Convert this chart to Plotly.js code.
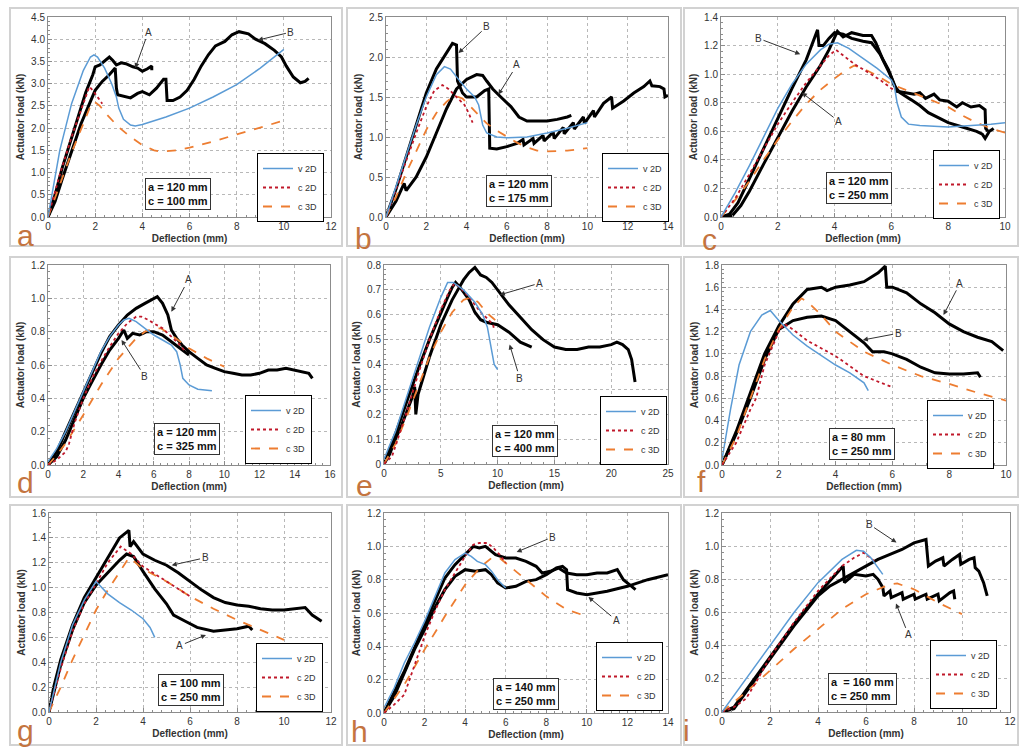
<!DOCTYPE html>
<html>
<head>
<meta charset="utf-8">
<script src="https://cdn.plot.ly/plotly-3.0.1.min.js"></script>
<style>
  html, body { margin: 0; padding: 0; background: #fff; }
  #chart { width: 1024px; height: 756px; }
</style>
</head>
<body>
<div id="chart"></div>
<script>
/* Nine load-deflection panels (a..i): two test curves (A, B) against
   the v 2D / c 2D / c 3D model predictions. */

// ---- panel a: a = 120 mm, c = 100 mm
const a_v2d = [[0,0],[0.25,0.8],[0.5,1.5],[1,2.55],[1.5,3.3],[1.8,3.6],[1.95,3.65],[2.1,3.6],[2.4,3.35],[2.7,3.0],[2.9,2.7],[3.0,2.45],[3.2,2.2],[3.5,2.07],[3.7,2.05],[4.0,2.08],[5,2.25],[6,2.45],[7,2.7],[8,2.98],[9,3.35],[10,3.77]];
const a_c2d = [[0,0],[0.5,0.95],[1,1.8],[1.5,2.55],[1.75,2.93],[1.9,2.85],[2.1,2.7],[2.3,2.55]];
const a_c3d = [[0,0],[0.5,0.75],[1,1.45],[1.5,2.1],[1.8,2.5],[1.95,2.6],[2.2,2.5],[2.5,2.3],[3,2.02],[3.5,1.8],[4,1.62],[4.5,1.5],[4.8,1.47],[5.5,1.5],[6,1.56],[7,1.7],[8,1.86],[9,2.02],[10,2.17]];
const a_expA = [[0,0],[0.3,0.5],[0.6,1.1],[1,1.8],[1.3,2.3],[1.6,2.8],[1.9,3.2],[2.0,3.38],[2.2,3.42],[2.4,3.5],[2.6,3.6],[2.75,3.52],[2.9,3.42],[3.1,3.47],[3.3,3.45],[3.6,3.38],[3.8,3.35],[4.0,3.28],[4.2,3.33],[4.4,3.4],[4.4,3.3]];
const a_expB = [[0,0],[0.3,0.35],[0.6,0.85],[1,1.5],[1.4,2.1],[1.8,2.6],[2.0,2.85],[2.3,3.05],[2.6,3.2],[2.85,3.35],[2.9,2.9],[2.95,2.75],[3.2,2.72],[3.5,2.68],[3.8,2.78],[4.0,2.82],[4.3,2.75],[4.6,2.9],[4.9,3.1],[5.0,3.1],[5.05,2.62],[5.3,2.62],[5.6,2.7],[5.9,2.85],[6.2,3.1],[6.5,3.4],[6.8,3.65],[7.1,3.85],[7.5,3.95],[7.8,4.1],[8.1,4.17],[8.5,4.12],[8.8,4.0],[9.2,3.9],[9.6,3.75],[9.9,3.6],[10.1,3.4],[10.4,3.15],[10.7,3.02],[10.9,3.05],[11.05,3.12]];

// ---- panel b: a = 120 mm, c = 175 mm
const b_v2d = [[0,0],[0.5,0.38],[1,0.78],[1.5,1.15],[2,1.5],[2.5,1.78],[2.9,1.88],[3.2,1.85],[3.6,1.72],[4.0,1.6],[4.4,1.5],[4.6,1.4],[4.8,1.15],[5.0,1.05],[5.5,1.0],[6,0.99],[7,1.0],[8,1.05],[9,1.11],[10,1.18]];
const b_c2d = [[0,0],[0.5,0.35],[1,0.72],[1.5,1.05],[2,1.38],[2.4,1.58],[2.8,1.65],[3.1,1.6],[3.5,1.5],[3.9,1.4],[4.1,1.3],[4.3,1.18]];
const b_c3d = [[0,0],[0.5,0.25],[1,0.55],[1.5,0.83],[2,1.09],[2.5,1.3],[3,1.44],[3.4,1.52],[3.8,1.48],[4.2,1.38],[4.6,1.27],[5,1.17],[5.5,1.08],[6,1.0],[6.5,0.93],[7,0.87],[7.5,0.83],[8,0.82],[9,0.83],[10,0.86]];
const b_expA = [[0,0],[0.5,0.2],[0.9,0.42],[1.0,0.33],[1.5,0.5],[2,0.75],[2.5,1.05],[3,1.35],[3.5,1.6],[4,1.72],[4.5,1.78],[4.8,1.77],[5.0,1.7],[5.3,1.6],[5.7,1.5],[6.2,1.38],[6.6,1.25],[7,1.2],[8,1.2],[8.5,1.22],[9.0,1.25],[9.2,1.27]];
const b_expB = [[0,0],[0.5,0.35],[1,0.75],[1.5,1.15],[2,1.55],[2.5,1.85],[3,2.05],[3.3,2.17],[3.5,2.15],[3.55,1.7],[3.8,1.55],[4.0,1.5],[4.5,1.5],[4.9,1.58],[5.1,1.6],[5.15,0.86],[5.5,0.85],[6,0.88],[6.5,0.92],[6.8,0.97],[6.85,0.9],[7.3,0.98],[7.35,0.92],[7.8,1.02],[7.85,0.95],[8.3,1.06],[8.35,0.98],[8.8,1.12],[8.85,1.04],[9.3,1.18],[9.35,1.1],[9.8,1.25],[9.85,1.17],[10.3,1.33],[10.35,1.25],[10.8,1.42],[11.2,1.5],[11.25,1.36],[11.8,1.45],[12.3,1.55],[12.8,1.63],[13.1,1.7],[13.2,1.64],[13.6,1.63],[13.8,1.6],[13.85,1.5],[14,1.52]];

// ---- panel c: a = 120 mm, c = 250 mm
const c_v2d = [[0,0],[0.5,0.17],[1,0.36],[1.5,0.56],[2,0.76],[2.5,0.93],[3,1.07],[3.5,1.17],[3.8,1.21],[4.1,1.22],[4.5,1.18],[5,1.11],[5.5,1.04],[6,0.96],[6.1,0.92],[6.2,0.8],[6.35,0.7],[6.6,0.65],[7,0.64],[8,0.63],[9,0.64],[9.5,0.65],[10,0.66]];
const c_c2d = [[0,0],[0.5,0.13],[1,0.3],[1.5,0.48],[2,0.65],[2.5,0.8],[3,0.94],[3.5,1.06],[3.8,1.13],[4.05,1.17],[4.3,1.13],[4.7,1.07],[5.2,1.01],[5.6,0.96],[6,0.9],[6.1,0.89]];
const c_c3d = [[0,0],[0.5,0.12],[1,0.25],[1.5,0.4],[2,0.54],[2.5,0.67],[3,0.79],[3.5,0.89],[4,0.97],[4.4,1.03],[4.7,1.06],[5,1.04],[5.5,0.99],[6,0.93],[6.5,0.89],[7,0.85],[7.5,0.81],[8,0.77],[8.5,0.71],[9,0.66],[9.5,0.62],[10,0.59]];
const c_expA = [[0,0],[0.4,0.01],[0.7,0.08],[1,0.18],[1.5,0.37],[2,0.56],[2.5,0.74],[3,0.91],[3.5,1.06],[3.8,1.17],[4.0,1.26],[4.1,1.3],[4.3,1.26],[4.6,1.29],[5,1.27],[5.3,1.27],[5.45,1.22],[5.7,1.1],[6,0.98],[6.2,0.88],[6.5,0.87],[6.8,0.86],[7,0.87],[7.2,0.83],[7.5,0.86],[7.7,0.82],[8,0.81],[8.3,0.77],[8.5,0.8],[8.8,0.77],[9.1,0.78],[9.3,0.75],[9.32,0.62],[9.4,0.6]];
const c_expB = [[0,0],[0.3,0.02],[0.6,0.1],[1,0.27],[1.5,0.48],[2,0.69],[2.5,0.9],[3,1.1],[3.2,1.2],[3.4,1.31],[3.45,1.2],[3.6,1.2],[3.8,1.25],[4.0,1.29],[4.3,1.28],[4.6,1.25],[5,1.23],[5.3,1.22],[5.6,1.14],[5.9,1.03],[6.1,0.92],[6.3,0.87],[6.7,0.82],[7,0.78],[7.3,0.73],[7.7,0.69],[8,0.66],[8.5,0.63],[9,0.6],[9.2,0.58],[9.3,0.55],[9.45,0.6],[9.6,0.62]];

// ---- panel d: a = 120 mm, c = 325 mm
const d_v2d = [[0,0.02],[0.5,0.1],[1,0.2],[1.5,0.32],[2,0.45],[2.5,0.57],[3,0.68],[3.5,0.77],[4,0.84],[4.3,0.87],[4.6,0.88],[5,0.86],[5.5,0.82],[6,0.78],[6.5,0.75],[7,0.72],[7.3,0.68],[7.5,0.6],[7.65,0.52],[8,0.48],[8.5,0.455],[9.3,0.445]];
const d_c2d = [[0,0],[0.5,0.03],[1,0.08],[1.2,0.13],[1.5,0.25],[2,0.4],[2.5,0.52],[3,0.62],[3.5,0.71],[4,0.79],[4.5,0.85],[5,0.89],[5.3,0.89],[5.7,0.87],[6,0.85],[6.5,0.82],[7,0.77],[7.4,0.73],[7.8,0.68]];
const d_c3d = [[0,0],[0.5,0.06],[1,0.13],[2,0.3],[3,0.48],[4,0.64],[5,0.76],[5.5,0.8],[6,0.82],[6.4,0.82],[7,0.78],[7.5,0.74],[8,0.7],[9,0.64],[10,0.59]];
const d_expA = [[0,0],[0.5,0.08],[1,0.2],[1.5,0.32],[2,0.44],[2.5,0.56],[3,0.67],[3.5,0.77],[4,0.84],[4.5,0.9],[5,0.94],[5.5,0.97],[6,1.0],[6.2,1.01],[6.5,0.97],[6.8,0.9],[7,0.81],[7.3,0.76],[7.6,0.72],[8,0.68],[8.5,0.64],[9,0.6],[9.5,0.58],[10,0.56],[10.5,0.55],[11,0.54],[11.5,0.54],[12,0.55],[12.5,0.57],[13,0.57],[13.5,0.58],[14,0.57],[14.5,0.56],[14.8,0.55],[15,0.52]];
const d_expB = [[0,0],[0.5,0.05],[1,0.15],[1.5,0.28],[2,0.4],[2.5,0.5],[3,0.6],[3.5,0.69],[4,0.76],[4.3,0.81],[4.5,0.76],[4.8,0.79],[5.2,0.78],[5.6,0.8],[6,0.8],[6.5,0.78],[7,0.74],[7.5,0.7],[8,0.66]];

// ---- panel e: a = 120 mm, c = 400 mm
const e_v2d = [[0,0.02],[1,0.13],[2,0.27],[3,0.41],[4,0.55],[5,0.67],[5.6,0.73],[6.1,0.73],[7,0.7],[8,0.65],[8.7,0.6],[9.1,0.55],[9.3,0.5],[9.5,0.44],[9.7,0.4],[10,0.38]];
const e_c2d = [[0,0],[0.7,0.03],[1,0.07],[2,0.21],[3,0.36],[4,0.5],[5,0.62],[5.8,0.7],[6.2,0.725],[6.7,0.71],[7.5,0.67],[8.5,0.61],[9.2,0.58],[9.6,0.56],[9.7,0.54]];
const e_c3d = [[0,0],[1,0.08],[2,0.19],[3,0.31],[4,0.43],[5,0.53],[6,0.61],[7,0.66],[7.7,0.67],[8.3,0.65],[9,0.61],[9.5,0.59],[10,0.57]];
const e_expA = [[0,0],[0.5,0.04],[1,0.1],[1.5,0.15],[2,0.21],[2.5,0.27],[2.7,0.31],[2.8,0.2],[3,0.28],[3.5,0.36],[4,0.43],[5,0.56],[6,0.66],[6.5,0.7],[7,0.74],[7.5,0.77],[8,0.79],[8.5,0.76],[9,0.75],[9.5,0.73],[10,0.7],[11,0.64],[12,0.59],[13,0.54],[14,0.5],[15,0.47],[16,0.46],[17,0.46],[18,0.47],[19,0.47],[20,0.48],[20.5,0.49],[21,0.48],[21.5,0.46],[21.8,0.42],[22,0.37],[22.1,0.33]];
const e_expB = [[0,0],[1,0.12],[2,0.25],[3,0.38],[4,0.5],[5,0.61],[5.5,0.66],[6,0.71],[6.3,0.73],[6.7,0.71],[7,0.69],[7.5,0.66],[8,0.61],[8.5,0.58],[9,0.57],[10,0.56],[11,0.53],[12,0.49],[13,0.47]];

// ---- panel f: a = 80 mm, c = 250 mm
const f_v2d = [[0,0.05],[0.3,0.5],[0.6,0.9],[1,1.2],[1.4,1.35],[1.7,1.39],[2,1.3],[2.5,1.17],[3,1.07],[4,0.9],[4.5,0.83],[5,0.74],[5.15,0.67]];
const f_c2d = [[0,0],[0.5,0.2],[1,0.5],[1.2,0.6],[1.5,0.9],[2,1.2],[2.2,1.27],[2.5,1.22],[3,1.12],[4,0.98],[5,0.8],[5.5,0.75],[6,0.7]];
const f_c3d = [[0,0],[0.5,0.25],[1,0.6],[1.5,0.95],[2,1.22],[2.5,1.42],[2.8,1.5],[3,1.47],[3.5,1.35],[4,1.2],[5,1.02],[6,0.9],[7,0.8],[8,0.73],[9,0.65],[10,0.58]];
const f_expA = [[0,0],[0.5,0.3],[1,0.65],[1.5,1.0],[2,1.25],[2.5,1.45],[3,1.58],[3.5,1.6],[3.7,1.57],[4,1.6],[4.5,1.62],[5,1.65],[5.5,1.73],[5.75,1.79],[5.8,1.6],[6,1.6],[6.5,1.55],[7,1.45],[7.5,1.37],[8,1.27],[8.5,1.2],[9,1.15],[9.5,1.11],[9.9,1.03]];
const f_expB = [[0,0],[0.5,0.28],[1,0.6],[1.5,0.95],[2,1.22],[2.5,1.3],[3,1.33],[3.5,1.34],[4,1.3],[4.5,1.2],[5,1.1],[5.3,1.02],[5.7,1.02],[6,1.0],[6.5,0.95],[7,0.88],[7.5,0.83],[8,0.82],[8.5,0.82],[9,0.83],[9.1,0.79]];

// ---- panel g: a = 100 mm, c = 250 mm
const g_v2d = [[0,0],[0.5,0.4],[1,0.7],[1.5,0.9],[2,1.05],[2.5,0.95],[3,0.88],[3.5,0.82],[4,0.75],[4.3,0.68],[4.5,0.6]];
const g_c2d = [[0,0],[0.5,0.35],[1,0.65],[1.5,0.87],[2,1.03],[2.5,1.2],[3.05,1.33],[3.5,1.27],[4,1.17],[5,1.05],[6,0.93]];
const g_c3d = [[0,0],[0.5,0.2],[1,0.42],[1.5,0.62],[2,0.82],[2.5,0.98],[3,1.12],[3.4,1.24],[3.5,1.23],[4,1.15],[5,1.05],[6,0.93],[7,0.83],[8,0.74],[9,0.66],[10,0.58]];
const g_expA = [[0,0],[0.5,0.38],[1,0.66],[1.5,0.88],[2,1.02],[2.5,1.12],[3,1.22],[3.3,1.27],[3.6,1.25],[4,1.13],[4.5,0.99],[5,0.87],[5.3,0.78],[5.8,0.73],[6.3,0.68],[7,0.65],[7.5,0.66],[8,0.67],[8.5,0.69],[8.65,0.66]];
const g_expB = [[0,0],[0.2,0.2],[0.5,0.42],[1,0.7],[1.5,0.92],[2,1.08],[2.5,1.25],[3,1.4],[3.4,1.46],[3.45,1.33],[3.6,1.37],[4,1.27],[4.5,1.22],[5,1.18],[5.5,1.12],[6,1.05],[6.5,0.98],[7,0.92],[7.5,0.88],[8,0.86],[8.5,0.85],[9,0.83],[9.5,0.82],[10,0.82],[10.5,0.83],[10.9,0.84],[11.2,0.78],[11.6,0.73]];

// ---- panel h: a = 140 mm, c = 250 mm
const h_v2d = [[0,0.03],[0.5,0.15],[1,0.3],[1.5,0.42],[2,0.55],[2.5,0.7],[3,0.84],[3.5,0.92],[4,0.96],[4.3,0.94],[4.6,0.91],[5,0.89],[5.3,0.85],[5.6,0.8],[6,0.75]];
const h_c2d = [[0,0],[0.5,0.05],[1,0.11],[1.3,0.22],[1.6,0.32],[2,0.46],[2.5,0.61],[3,0.74],[3.5,0.84],[4,0.94],[4.4,1.01],[4.7,1.02],[5.1,1.02],[5.4,0.99],[5.7,0.95],[6,0.9]];
const h_c3d = [[0,0],[1,0.17],[2,0.38],[3,0.58],[4,0.77],[4.8,0.88],[5.3,0.93],[5.7,0.93],[6,0.9],[6.5,0.85],[7,0.8],[7.5,0.75],[8,0.7],[9,0.62],[10,0.58]];
const h_expA = [[0,0],[0.5,0.1],[1,0.24],[1.5,0.38],[2,0.5],[2.5,0.63],[3,0.74],[3.5,0.82],[4,0.86],[4.5,0.85],[5,0.86],[5.3,0.83],[5.6,0.78],[6,0.75],[6.5,0.76],[7,0.79],[7.5,0.8],[8,0.83],[8.5,0.87],[8.8,0.88],[9.0,0.86],[9.05,0.74],[9.5,0.72],[10,0.71],[11,0.73],[12,0.76],[13,0.8],[14,0.83]];
const h_expB = [[0,0],[0.5,0.12],[1,0.25],[1.5,0.39],[2,0.53],[2.5,0.67],[3,0.81],[3.5,0.89],[4,0.95],[4.4,1.0],[4.7,0.99],[5,1.0],[5.3,0.97],[5.5,0.95],[6,0.93],[6.5,0.93],[7,0.91],[7.5,0.88],[7.8,0.84],[8.2,0.85],[8.6,0.87],[9,0.84],[9.5,0.83],[10,0.83],[10.5,0.84],[11,0.84],[11.5,0.86],[11.8,0.8],[12.1,0.77],[12.4,0.74]];

// ---- panel i: a = 160 mm, c = 250 mm
const i_v2d = [[0,0],[0.5,0.1],[1,0.2],[2,0.4],[3,0.6],[4,0.78],[5,0.92],[5.6,0.975],[5.9,0.97],[6.2,0.93],[6.5,0.87],[6.7,0.83]];
const i_c2d = [[0,0],[0.5,0.03],[1,0.08],[1.5,0.2],[2,0.33],[3,0.54],[4,0.73],[5,0.88],[5.5,0.93],[5.9,0.96],[6.2,0.93],[6.4,0.9]];
const i_c3d = [[0,0],[1,0.12],[2,0.25],[3,0.38],[4,0.5],[5,0.62],[6,0.71],[7,0.77],[7.3,0.775],[8,0.74],[9,0.66],[10,0.59]];
const i_expA = [[0,0],[0.5,0.03],[1,0.13],[2,0.33],[3,0.53],[4,0.71],[4.7,0.82],[5.05,0.88],[5.1,0.78],[5.5,0.83],[6,0.82],[6.3,0.83],[6.5,0.8],[6.7,0.75],[6.75,0.7],[7.0,0.73],[7.05,0.69],[7.5,0.72],[7.55,0.68],[8,0.71],[8.05,0.68],[8.5,0.71],[8.55,0.68],[9,0.71],[9.05,0.67],[9.5,0.72],[9.65,0.73],[9.7,0.68]];
const i_expB = [[0,0],[0.5,0.02],[1,0.12],[2,0.32],[3,0.52],[4,0.7],[4.5,0.76],[5,0.8],[5.5,0.84],[6,0.88],[6.5,0.92],[7,0.95],[7.5,0.98],[8,1.02],[8.5,1.04],[8.6,0.88],[8.9,0.91],[9.2,0.93],[9.25,0.88],[9.6,0.92],[9.9,0.95],[9.95,0.89],[10.3,0.92],[10.5,0.93],[10.55,0.87],[10.7,0.85],[10.9,0.78],[11.05,0.7]];

// parameter boxes and axis extents per panel
const letters = ['a','b','c','d','e','f','g','h','i'];
const paramA = ['120','120','120','120','120','80','100','140','160'];
const paramC = ['100','175','250','325','400','250','250','250','250'];
const xMax = [12,14,10,16,25,10,12,14,12];
const xStep = [2,2,2,2,5,2,2,2,2];
const yMax = [4.5,2.5,1.4,1.2,0.8,1.8,1.6,1.2,1.2];
const yStep = [0.5,0.5,0.2,0.2,0.1,0.2,0.2,0.2,0.2];
const yFmt = ['.1f','.1f','.1f','.1f','','.1f','.1f','.1f','.1f'];

// callouts: [tipX, tipY, labelX, labelY] for A and B
const calloutA = [[3.7,3.35,4.25,4.16],[5.58,1.53,6.5,1.9],[2.85,0.87,4.14,0.67],[7.0,0.92,7.95,1.11],[10.2,0.68,13.7,0.727],[7.8,1.35,8.38,1.635],[6.68,0.62,5.57,0.534],[10.08,0.696,11.45,0.556],[7.25,0.655,7.77,0.465]];
const calloutB = [[8.9,3.98,10.3,4.16],[3.6,2.05,5.0,2.38],[2.79,1.14,1.32,1.25],[4.17,0.75,5.5,0.53],[11.06,0.48,11.95,0.345],[4.96,1.125,6.2,1.185],[5.22,1.18,6.64,1.24],[6.54,0.966,8.32,1.056],[7.27,1.022,6.13,1.132]];

const series = [
  [a_v2d,a_c2d,a_c3d,a_expA,a_expB],[b_v2d,b_c2d,b_c3d,b_expA,b_expB],[c_v2d,c_c2d,c_c3d,c_expA,c_expB],
  [d_v2d,d_c2d,d_c3d,d_expA,d_expB],[e_v2d,e_c2d,e_c3d,e_expA,e_expB],[f_v2d,f_c2d,f_c3d,f_expA,f_expB],
  [g_v2d,g_c2d,g_c3d,g_expA,g_expB],[h_v2d,h_c2d,h_c3d,h_expA,h_expB],[i_v2d,i_c2d,i_c3d,i_expA,i_expB]
];

// page geometry in pixels
const plotBox = [ // [left, right, top, bottom]
  [48,331,17,217],[386,668,17,217],[721,1005,17,217],
  [48,330,265,465],[384,668,265,464],[722,1006,265,465],
  [49,331,513,712],[384,668,513,713],[722,1010,513,712]
];
const frameBox = [
  [10,342,8,246],[347,681,8,246],[684,1018,8,246],
  [10,342,257,497],[347,681,257,497],[684,1018,257,497],
  [10,342,505,745],[347,681,505,745],[684,1018,505,745]
];
// legend box centre x and bottom y (legend drawn about 60 px tall)
const legendPos = [[289,213],[634,213],[965,210],[277,455],[632,456],[959,460],[288,703],[628,702],[962,700]];
const boxPos = [[178,194],[519,191],[859,188],[187,439],[525,441],[862,444],[191,690],[526,694],[862,689]];
const letterPos = [[25,235],[363,238],[709,239],[25,482],[364,485],[701,481],[25,730],[359,731],[686,730]];

const W = 1024, H = 756;
const px = v => v / W;
const py = v => 1 - v / H;
const LEG_W = 64, LEG_H = 60;

const styles = [
  { name: 'v 2D', line: { color: '#5b9bd5', width: 1.5 } },
  { name: 'c 2D', line: { color: '#c0182a', width: 1.8, dash: 'dot' } },
  { name: 'c 3D', line: { color: '#ed7d31', width: 1.8, dash: 'dash' } },
  { name: 'A', line: { color: '#000', width: 3 } },
  { name: 'B', line: { color: '#000', width: 3 } }
];

const traces = [];
const annotations = [];
const shapes = [];
const layout = {
  width: W, height: H,
  margin: { l: 0, r: 0, t: 0, b: 0 },
  paper_bgcolor: '#fff',
  plot_bgcolor: '#fff',
  font: { family: 'Liberation Sans, Arial, sans-serif', color: '#333', size: 10 },
  showlegend: true
};

letters.forEach((L, k) => {
  const sfx = k === 0 ? '' : String(k + 1);
  const xa = 'x' + sfx, ya = 'y' + sfx;
  const legName = 'legend' + sfx;

  // experiments first, models on top
  [3, 4, 2, 1, 0].forEach(s => {
    const pts = series[k][s];
    traces.push({
      type: 'scatter', mode: 'lines',
      x: pts.map(p => p[0]), y: pts.map(p => p[1]),
      xaxis: xa, yaxis: ya,
      name: styles[s].name,
      line: styles[s].line,
      legend: legName,
      legendrank: s,
      showlegend: s < 3,
      hoverinfo: 'skip'
    });
  });

  const pb = plotBox[k];
  const axisBase = {
    showgrid: true, gridcolor: '#b8b8b8', griddash: 'dot', gridwidth: 1,
    zeroline: false,
    showline: true, linecolor: '#8c8c8c', linewidth: 1, mirror: true,
    ticks: 'inside', ticklen: 4, tickcolor: '#8c8c8c',
    ticklabeloverflow: 'allow',
    tickfont: { size: 10, color: '#333' }
  };
  layout['xaxis' + sfx] = Object.assign({}, axisBase, {
    domain: [px(pb[0]), px(pb[1])],
    anchor: ya,
    range: [0, xMax[k]], dtick: xStep[k], tick0: 0,
    minor: { dtick: xStep[k] / 5, ticks: 'inside', ticklen: 2, tickcolor: '#8c8c8c', showgrid: false },
    title: { text: 'Deflection (mm)', font: { size: 10, weight: 'bold', color: '#333' }, standoff: 3 }
  });
  layout['yaxis' + sfx] = Object.assign({}, axisBase, {
    domain: [py(pb[3]), py(pb[2])],
    anchor: xa,
    range: [0, yMax[k]], dtick: yStep[k], tick0: 0,
    tickformat: yFmt[k],
    minor: { dtick: yStep[k] / 5, ticks: 'inside', ticklen: 2, tickcolor: '#8c8c8c', showgrid: false },
    title: { text: 'Actuator load (kN)', font: { size: 10, weight: 'bold', color: '#333' }, standoff: 4 }
  });

  const lp = legendPos[k];
  layout[legName] = {
    x: px(lp[0] - LEG_W / 2), y: py(lp[1] - LEG_H), xanchor: 'left', yanchor: 'top',
    xref: 'paper', yref: 'paper',
    bgcolor: '#fff', bordercolor: '#000', borderwidth: 1,
    font: { size: 9, color: '#333' },
    itemwidth: 30, tracegroupgap: 0,
    traceorder: 'normal'
  };

  // panel frame
  const fb = frameBox[k];
  shapes.push({
    type: 'rect', xref: 'paper', yref: 'paper', layer: 'below',
    x0: px(fb[0]), x1: px(fb[1]), y0: py(fb[3]), y1: py(fb[2]),
    line: { color: '#d2d2d2', width: 2 }
  });

  // parameter box
  const bp = boxPos[k];
  const aTxt = k === 8 ? 'a  = ' : 'a = ';
  annotations.push({
    xref: 'paper', yref: 'paper', x: px(bp[0]), y: py(bp[1]),
    xanchor: 'center', yanchor: 'middle', showarrow: false,
    text: '<b>' + aTxt + paramA[k] + ' mm<br>c = ' + paramC[k] + ' mm</b>',
    align: 'left',
    font: { size: 11, color: '#111' },
    bgcolor: '#fff', bordercolor: '#333', borderwidth: 1, borderpad: 2
  });

  // panel letter
  const lt = letterPos[k];
  annotations.push({
    xref: 'paper', yref: 'paper', x: px(lt[0]), y: py(lt[1]),
    xanchor: 'center', yanchor: 'middle', showarrow: false,
    text: L, font: { size: 30, color: '#c4743f' }
  });

  // A / B callouts
  [[calloutA[k], 'A'], [calloutB[k], 'B']].forEach(([c, t]) => {
    annotations.push({
      xref: xa, yref: ya, axref: xa, ayref: ya,
      x: c[0], y: c[1], ax: c[2], ay: c[3],
      text: t, showarrow: true,
      arrowhead: 2, arrowsize: 1, arrowwidth: 1, arrowcolor: '#333',
      font: { size: 10, color: '#333' }
    });
  });
});

layout.shapes = shapes;
layout.annotations = annotations;

Plotly.newPlot('chart', traces, layout, { displayModeBar: false, staticPlot: true });
</script>
</body>
</html>
